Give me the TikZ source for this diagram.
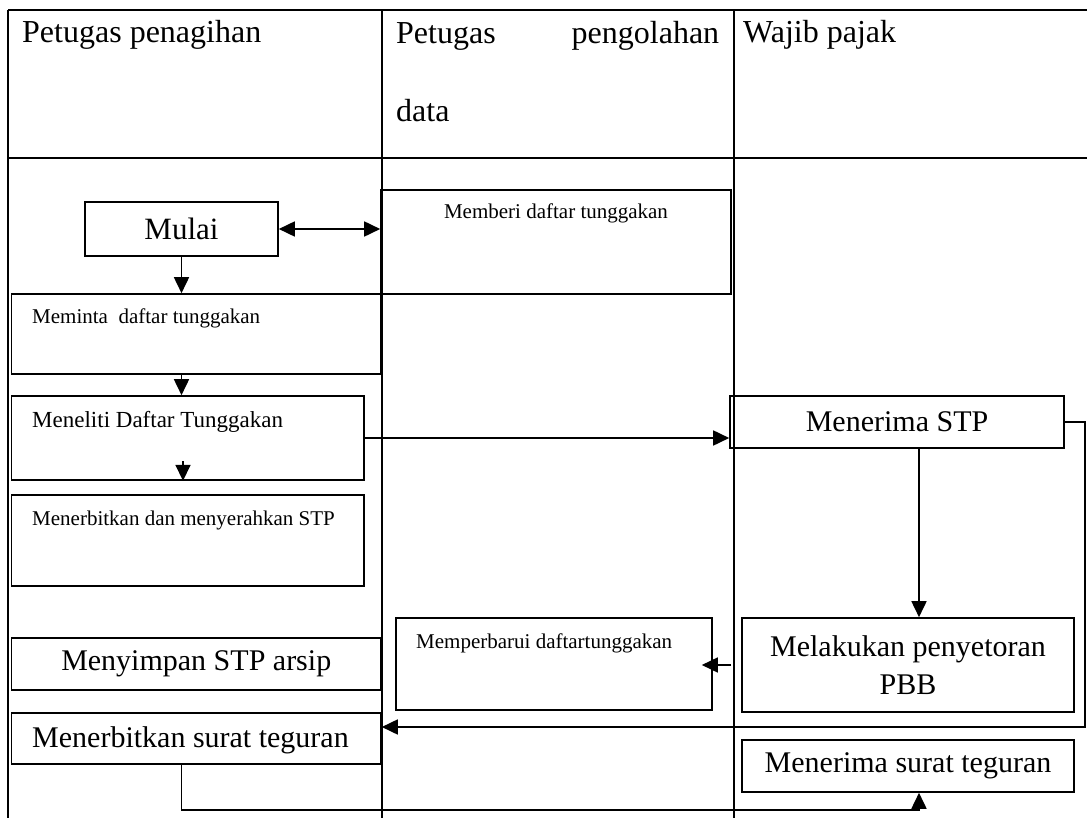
\documentclass[tikz,border=0pt]{standalone}
\usepackage{fontspec}
\setmainfont{Liberation Serif}
\usetikzlibrary{arrows.meta}
\tikzstyle{box}=[draw,line width=1.6pt,inner sep=0pt]
\tikzstyle{arrow}=[draw,line width=1.7pt,-{Triangle[length=16pt,width=15pt]}]
\tikzstyle{lane}=[draw,line width=2.2pt]
\tikzstyle{txt}=[inner sep=0pt,anchor=west]
\newcommand{\txthead}{\fontsize{32}{78}\selectfont}
\newcommand{\txtbig}{\fontsize{30}{38}\selectfont}
\newcommand{\txtmid}{\fontsize{23}{27}\selectfont}
\newcommand{\txtsmall}{\fontsize{21}{25}\selectfont}

\begin{document}
\begin{tikzpicture}[x=1pt,y=-1pt]
    \useasboundingbox (0,0) rectangle (1087,818);
    % swimlanes
    \draw[lane] (8,10) -- (1087,10);
    \draw[lane] (8,158) -- (1087,158);
    \foreach \x in {8,382,734}
        \draw[lane] (\x,10) -- (\x,818);
    \node[txt,anchor=base west,font=\txthead] (hPenagihan) at (22,43) {Petugas penagihan};
    \node[txt,anchor=north west,font=\txthead,text width=323pt,align=left] (hPengolahan) at (396,21) {Petugas\hfill pengolahan\\data};
    \node[txt,anchor=base west,font=\txthead] (hWajib) at (743,43) {Wajib pajak};
    % boxes
    \node[box,minimum width=193pt,minimum height=54pt,font=\fontsize{31}{38}\selectfont] (Mulai) at (181.5,229) {Mulai};
    \node[box,minimum width=350pt,minimum height=104pt] (Memberi) at (556,242) {};
    \node[box,minimum width=369.5pt,minimum height=80pt] (Meminta) at (196.25,334) {};
    \node[box,minimum width=352.5pt,minimum height=84pt] (Meneliti) at (187.75,438) {};
    \node[box,minimum width=352.5pt,minimum height=91pt] (Serahkan) at (187.75,540.5) {};
    \node[box,minimum width=369.5pt,minimum height=52pt,font=\txtbig] (Simpan) at (196.25,664) {Menyimpan STP arsip};
    \node[box,minimum width=369.5pt,minimum height=51pt] (Teguran) at (196.25,738.5) {};
    \node[box,minimum width=316pt,minimum height=92pt] (Perbarui) at (554,664) {};
    \node[box,minimum width=334pt,minimum height=52pt,font=\txtbig] (TerimaSTP) at (897,422) {Menerima STP};
    \node[box,minimum width=332pt,minimum height=94pt,font=\txtbig,align=center] (Setor) at (908,665) {Melakukan penyetoran\\PBB};
    \node[box,minimum width=332pt,minimum height=52pt,font=\txtbig] (TerimaSurat) at (908,766) {Menerima surat teguran};
    % box texts
    \node[txt,anchor=center,font=\txtsmall] (tMemberi) at (556,213) {Memberi daftar tunggakan};
    \node[txt,font=\txtsmall] (tMeminta) at (32,318) {Meminta\ \ daftar tunggakan};
    \node[txt,font=\txtmid] (tMeneliti) at (32,422) {Meneliti Daftar Tunggakan};
    \node[txt,font=\txtsmall] (tSerahkan) at (32,520) {Menerbitkan dan menyerahkan STP};
    \node[txt,font=\txtbig] (tTeguran) at (32,740) {Menerbitkan surat teguran};
    \node[txt,font=\txtsmall] (tPerbarui) at (416,643) {Memperbarui daftartunggakan};
    % arrows
    \coordinate (chk) at (183,461);
    \coordinate (loopR) at (1085,727);
    \coordinate (loopB) at (919,810);
    \draw[arrow,{Triangle[length=16pt,width=15pt]}-{Triangle[length=16pt,width=15pt]}] (Mulai.east) -- (Mulai.east -| Memberi.west);
    \draw[arrow] (Mulai.south) -- (Mulai.south |- Meminta.north);
    \draw[arrow] (Mulai.south |- Meminta.south) -- (Mulai.south |- Meneliti.north);
    \draw[arrow] (chk) -- (chk |- Meneliti.south);
    \draw[arrow] (Meneliti.east) -- (Meneliti.east -| TerimaSTP.west);
    \draw[arrow] (loopB |- TerimaSTP.south) -- (loopB |- Setor.north);
    \draw[arrow] (TerimaSTP.east) -| (loopR) -- (loopR -| Teguran.east);
    \draw[arrow,shorten <=10pt,shorten >=-11pt] (Setor.west) -- (Setor.west -| Perbarui.east);
    \draw[arrow] (Teguran.south -| Mulai.south) |- (loopB) -- (loopB |- TerimaSurat.south);
\end{tikzpicture}
\end{document}
